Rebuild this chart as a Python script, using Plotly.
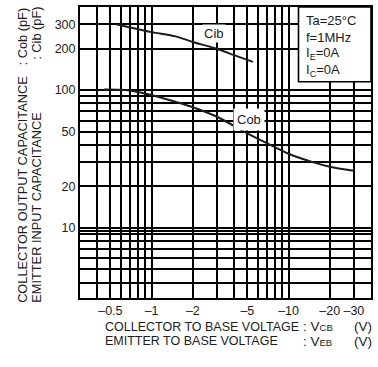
import numpy as np
import plotly.graph_objects as go

# Emitter input capacitance Cib vs emitter-base voltage (V, pF)
v_eb = [-0.55, -0.7, -1.0, -1.5, -2.0, -3.0, -4.0, -5.5]
cib_pf = [300, 284, 263, 245, 223, 199, 179, 160]

# Collector output capacitance Cob vs collector-base voltage (V, pF)
v_cb = [-0.45, -0.65, -1.0, -1.5, -2.0, -3.0, -5.0, -7.0, -10.0, -15.0, -20.0, -30.0]
cob_pf = [101, 100, 92, 82, 75, 64, 48.5, 41, 34.5, 30, 27.8, 26]

# Log grid of the chart paper and the labelled ticks
x_grid = [-0.4, -0.5, -0.6, -0.7, -0.8, -0.9, -1, -2, -3, -4, -5, -6, -7, -8, -9,
          -10, -20, -30]
x_labelled = [-0.5, -1, -2, -5, -10, -20, -30]
y_grid = [4, 5, 6, 7, 8, 9, 9.5, 10, 20, 30, 40, 50, 60, 70, 80, 90, 100, 200, 300]
y_labelled = [10, 20, 50, 100, 200, 300]

conditions = ["Ta=25°C", "f=1MHz", "I<sub>E</sub>=0A", "I<sub>C</sub>=0A"]

W, H = 378, 367
ML, MR, MT, MB = 80, 5, 6, 69
PW, PH = W - ML - MR, H - MT - MB
FONT = "Liberation Sans, Arial, sans-serif"
INK = "#1c1c1c"
GRID = "#000000"


def px_x(px):
    return (px - ML) / PW


def px_y(py):
    return (H - MB - py) / PH


def fmt_v(v):
    return "\u2013" + f"{abs(v):g}"


fig = go.Figure()
fig.add_trace(go.Scatter(x=np.abs(v_eb), y=cib_pf, mode="lines",
                         line=dict(color=INK, width=2, shape="spline", smoothing=0.8),
                         hoverinfo="skip", showlegend=False))
fig.add_trace(go.Scatter(x=np.abs(v_cb), y=cob_pf, mode="lines",
                         line=dict(color=INK, width=2, shape="spline", smoothing=0.8),
                         hoverinfo="skip", showlegend=False))

axis_common = dict(
    type="log", tickmode="array",
    showgrid=True, gridcolor=GRID, gridwidth=1.6,
    showline=True, linecolor=GRID, linewidth=2, mirror=True,
    ticks="", zeroline=False,
    tickfont=dict(family=FONT, size=12.5, color=INK),
)
fig.update_xaxes(
    range=[np.log10(0.3), np.log10(40)],
    tickvals=[abs(v) for v in x_grid],
    ticktext=[fmt_v(v) if v in x_labelled else "" for v in x_grid],
    **axis_common,
)
fig.update_yaxes(
    range=[np.log10(3.1), np.log10(400)],
    tickvals=y_grid,
    ticktext=[str(v) if v in y_labelled else "" for v in y_grid],
    **axis_common,
)

# Measurement-conditions box in the upper right corner
fig.add_shape(type="rect", xref="paper", yref="paper",
              x0=px_x(300), x1=1, y0=px_y(81), y1=1,
              line=dict(color=GRID, width=1.6), fillcolor="white", layer="above")

ann = []
for i, txt in enumerate(conditions):
    ann.append(dict(text=txt, xref="paper", yref="paper", x=px_x(306),
                    y=px_y(20 + i * 16.5), xanchor="left", yanchor="middle",
                    showarrow=False, font=dict(family=FONT, size=13, color=INK)))

# Curve labels
ann.append(dict(text="Cib", x=np.log10(2.86), y=np.log10(259), showarrow=False,
                bgcolor="white", borderpad=1,
                font=dict(family=FONT, size=13, color=INK)))
ann.append(dict(text="Cob", x=np.log10(5.1), y=np.log10(61), showarrow=False,
                bgcolor="white", borderpad=3,
                font=dict(family=FONT, size=13, color=INK)))

# X axis title, two lines with aligned colons
tf = dict(family=FONT, size=12.5, color=INK)
uf = dict(family=FONT, size=13.5, color=INK)
sub = "<span style='font-size:9.5px'>{}</span>"
for row, (name, s) in enumerate([("COLLECTOR TO BASE VOLTAGE", "CB"),
                                 ("EMITTER TO BASE VOLTAGE", "EB")]):
    yy = px_y(327 + row * 14.5)
    ann.append(dict(text=name, xref="paper", yref="paper", x=px_x(103), y=yy,
                    xanchor="left", yanchor="middle", showarrow=False, font=tf))
    ann.append(dict(text=": V" + sub.format(s), xref="paper", yref="paper",
                    x=px_x(303), y=yy, xanchor="left", yanchor="middle",
                    showarrow=False, font=uf))
    ann.append(dict(text="(V)", xref="paper", yref="paper",
                    x=px_x(376), y=yy, xanchor="right", yanchor="middle",
                    showarrow=False, font=uf))

# Y axis title, two rotated lines with aligned colons
yf = dict(family=FONT, size=12.8, color=INK)
for col, (name, sym) in enumerate([("COLLECTOR OUTPUT CAPACITANCE", ": Cob (pF)"),
                                   ("EMITTER INPUT CAPACITANCE", ": Cib (pF)")]):
    xx = px_x(22 + col * 14)
    ann.append(dict(text=name, xref="paper", yref="paper", x=xx, y=px_y(305),
                    xanchor="center", yanchor="bottom", textangle=-90,
                    showarrow=False, font=yf))
    ann.append(dict(text=sym, xref="paper", yref="paper", x=xx, y=px_y(4),
                    xanchor="center", yanchor="top", textangle=-90,
                    showarrow=False, font=yf))

fig.update_layout(
    width=W, height=H, margin=dict(l=ML, r=MR, t=MT, b=MB),
    paper_bgcolor="white", plot_bgcolor="white",
    annotations=ann, showlegend=False,
)

fig.write_html("out.html")
